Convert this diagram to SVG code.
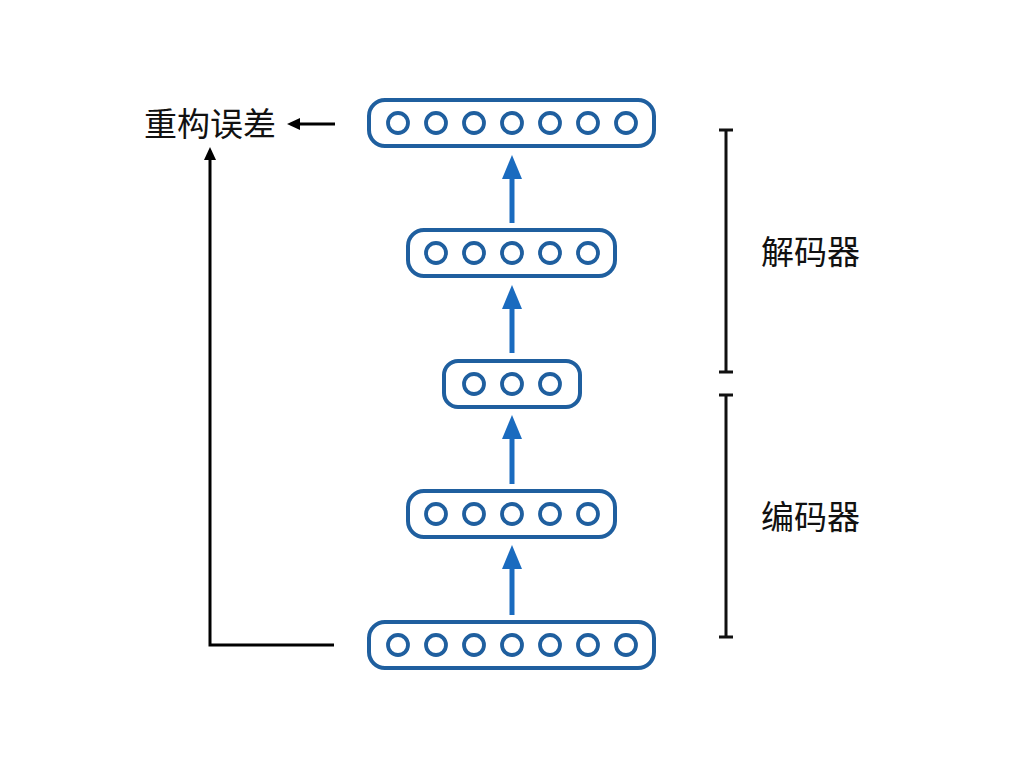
<svg xmlns="http://www.w3.org/2000/svg" width="1024" height="768" viewBox="0 0 1024 768">
<defs>
<style>
.box{fill:none;stroke:#1f5f9f;stroke-width:4}
.n{fill:none;stroke:#1f5f9f;stroke-width:3.8}
.up{stroke:#1a6bbf;stroke-width:5;fill:none}
.blk{stroke:#000;stroke-width:3;fill:none}
.br{stroke:#111;stroke-width:3;fill:none}
.t{font-family:"Noto Sans CJK SC","Noto Sans",sans-serif;font-size:33px;fill:#111}
</style>
<marker id="bh" viewBox="0 0 24 20" refX="0" refY="10" markerWidth="24" markerHeight="20" markerUnits="userSpaceOnUse" orient="auto">
<path d="M0,0 L24,10 L0,20 z" fill="#1a6bbf"/>
</marker>
<marker id="kh" viewBox="0 0 13 12" refX="0" refY="6" markerWidth="13" markerHeight="12" markerUnits="userSpaceOnUse" orient="auto">
<path d="M0,0 L13,6 L0,12 z" fill="#000"/>
</marker>
</defs>
<rect width="1024" height="768" fill="#fff"/>
<g id="output">
<rect class="box" x="369" y="100" width="285" height="46" rx="16"/>
<circle class="n" cx="398" cy="123" r="10"/><circle class="n" cx="436" cy="123" r="10"/><circle class="n" cx="474" cy="123" r="10"/><circle class="n" cx="512" cy="123" r="10"/><circle class="n" cx="550" cy="123" r="10"/><circle class="n" cx="588" cy="123" r="10"/><circle class="n" cx="626" cy="123" r="10"/>
</g>
<g id="dec1">
<rect class="box" x="408" y="230" width="207" height="46" rx="16"/>
<circle class="n" cx="436" cy="253" r="10"/><circle class="n" cx="474" cy="253" r="10"/><circle class="n" cx="512" cy="253" r="10"/><circle class="n" cx="550" cy="253" r="10"/><circle class="n" cx="588" cy="253" r="10"/>
</g>
<g id="code">
<rect class="box" x="444" y="361" width="136" height="46" rx="14"/>
<circle class="n" cx="474" cy="384" r="10"/><circle class="n" cx="512" cy="384" r="10"/><circle class="n" cx="550" cy="384" r="10"/>
</g>
<g id="enc1">
<rect class="box" x="408" y="491" width="207" height="46" rx="16"/>
<circle class="n" cx="436" cy="514" r="10"/><circle class="n" cx="474" cy="514" r="10"/><circle class="n" cx="512" cy="514" r="10"/><circle class="n" cx="550" cy="514" r="10"/><circle class="n" cx="588" cy="514" r="10"/>
</g>
<g id="input">
<rect class="box" x="369" y="622" width="285" height="46" rx="16"/>
<circle class="n" cx="398" cy="645" r="10"/><circle class="n" cx="436" cy="645" r="10"/><circle class="n" cx="474" cy="645" r="10"/><circle class="n" cx="512" cy="645" r="10"/><circle class="n" cx="550" cy="645" r="10"/><circle class="n" cx="588" cy="645" r="10"/><circle class="n" cx="626" cy="645" r="10"/>
</g>
<g id="connectors">
<line class="up" x1="512" y1="223" x2="512" y2="179" marker-end="url(#bh)"/>
<line class="up" x1="512" y1="353" x2="512" y2="309" marker-end="url(#bh)"/>
<line class="up" x1="512" y1="484" x2="512" y2="439" marker-end="url(#bh)"/>
<line class="up" x1="512" y1="615" x2="512" y2="569" marker-end="url(#bh)"/>
<path class="blk" d="M334,645 H210 V160" marker-end="url(#kh)"/>
<line class="blk" x1="335" y1="124" x2="300" y2="124" marker-end="url(#kh)"/>
</g>
<g id="dec-bracket">
<path class="br" d="M726,130 V372 M719,130 H733 M719,372 H733"/>
<text class="t" x="761" y="264">解码器</text>
</g>
<g id="enc-bracket">
<path class="br" d="M726,395 V637 M719,395 H733 M719,637 H733"/>
<text class="t" x="761" y="529">编码器</text>
</g>
<g id="error">
<text class="t" x="144" y="136">重构误差</text>
</g>
</svg>
